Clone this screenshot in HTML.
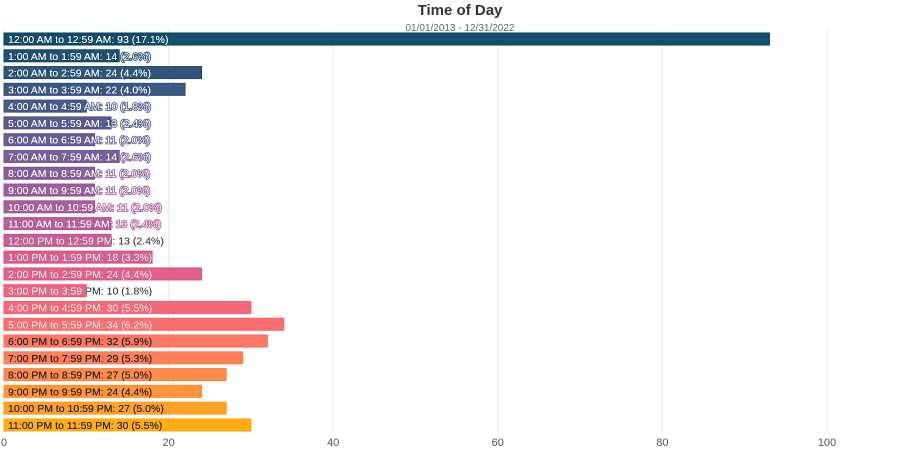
<!DOCTYPE html>
<html><head><meta charset="utf-8"><style>
body{margin:0;background:#fff;font-family:"Liberation Sans",sans-serif}
</style></head><body>
<svg id="c" width="920" height="448" xmlns="http://www.w3.org/2000/svg">
<text x="460" y="15" text-anchor="middle" font-size="15" font-weight="bold" fill="#333">Time of Day</text>
<text x="460" y="31" text-anchor="middle" font-size="10" fill="#666">01/01/2013 - 12/31/2022</text>
<g id="grid"></g><g id="bars"></g><g id="ticks"></g>
</svg>
<script>
const categories=["12:00 AM to 12:59 AM","1:00 AM to 1:59 AM","2:00 AM to 2:59 AM","3:00 AM to 3:59 AM","4:00 AM to 4:59 AM","5:00 AM to 5:59 AM","6:00 AM to 6:59 AM","7:00 AM to 7:59 AM","8:00 AM to 8:59 AM","9:00 AM to 9:59 AM","10:00 AM to 10:59 AM","11:00 AM to 11:59 AM","12:00 PM to 12:59 PM","1:00 PM to 1:59 PM","2:00 PM to 2:59 PM","3:00 PM to 3:59 PM","4:00 PM to 4:59 PM","5:00 PM to 5:59 PM","6:00 PM to 6:59 PM","7:00 PM to 7:59 PM","8:00 PM to 8:59 PM","9:00 PM to 9:59 PM","10:00 PM to 10:59 PM","11:00 PM to 11:59 PM"];
const values=[93,14,24,22,10,13,11,14,11,11,11,13,13,18,24,10,30,34,32,29,27,24,27,30];
const percents=["17.1%","2.6%","4.4%","4.0%","1.8%","2.4%","2.0%","2.6%","2.0%","2.0%","2.0%","2.4%","2.4%","3.3%","4.4%","1.8%","5.5%","6.2%","5.9%","5.3%","5.0%","4.4%","5.0%","5.5%"];
const xTicks=[0,20,40,60,80,100];
const NS="http://www.w3.org/2000/svg";
const x0=4,x1=827,xMax=100,top0=33,pitch=16.78,bh=12;
const X=v=>x0+(x1-x0)*v/xMax;
const Y=i=>top0+i*pitch;
const pal=["#003f5c","#2f4b7c","#665191","#a05195","#d45087","#f95d6a","#ff7c43","#ffa600"];
function hex(h){return [1,3,5].map(k=>parseInt(h.substr(k,2),16));}
function col(t){const s=t*(pal.length-1),i=Math.min(Math.floor(s),pal.length-2),f=s-i;const a=hex(pal[i]),b=hex(pal[i+1]);return "rgb("+a.map((v,k)=>Math.round(v+(b[k]-v)*f)).join(",")+")";}
function mk(tag,attrs,parent){const e=document.createElementNS(NS,tag);for(const k in attrs)e.setAttribute(k,attrs[k]);parent.appendChild(e);return e;}
const grid=document.getElementById('grid'),bars=document.getElementById('bars'),ticks=document.getElementById('ticks');
xTicks.forEach(t=>{
 const l=mk('line',{x1:X(t),x2:X(t),y1:30,y2:432,stroke:'#e6e6ef','stroke-width':1},grid);
 
 
 const tx=mk('text',{x:X(t),y:446,'text-anchor':'middle','font-size':11,fill:'#555'},ticks);
 tx.textContent=t;
 
 
});
const defs=mk('defs',{},document.getElementById('c'));
values.forEach((v,i)=>{
 const c=col(i/(values.length-1));
 const y=Y(i);
 const g=mk('g',{},bars);
 
 
 mk('rect',{x:x0,y:y,width:X(v)-x0,height:bh,fill:c,'fill-opacity':0.92,stroke:c,'stroke-width':1},g);
 const cp=mk('clipPath',{id:'cp'+i},defs);
 mk('rect',{x:x0,y:y-2,width:X(v)-x0,height:bh+4},cp);
 const label=categories[i]+": "+v+" ("+percents[i]+")";
 const inside=i<18?'#fff':'#222';
 const outside=i<12?'#fff':'#222';
 const o=mk('text',{x:x0+4,y:y+bh-2,'font-size':10.5,fill:outside},g);
 if(i<12){o.setAttribute('stroke',c);o.setAttribute('stroke-width','1.6');o.setAttribute('paint-order','stroke');}
 o.textContent=label;
 
 
 const t=mk('text',{x:x0+4,y:y+bh-2,'font-size':10.5,fill:inside,'clip-path':'url(#cp'+i+')'},g);
 t.textContent=label;
 
 
});
</script>
</body></html>
